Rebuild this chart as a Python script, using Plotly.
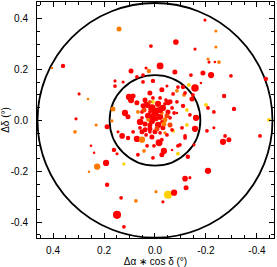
import plotly.graph_objects as go

# offsets in degrees (Delta alpha * cos delta, Delta delta), brightness, colour class
d_ra = [0.141, 0.361, 0.404, 0.094, 0.157, 0.125, 0.157, 0.298, 0.263, 0.102,
        0.094, 0.086, 0.071, 0.165, 0.118, 0.106, 0.310, 0.231, 0.188, 0.314,
        -0.196, -0.239, -0.082, 0.016, -0.239, -0.157, -0.208, -0.212, -0.235, -0.251,
        -0.020, 0.035, 0.024, -0.078, -0.188, -0.220, -0.298, -0.435, 0.008, -0.180,
        -0.133, -0.047, -0.090, -0.110, -0.157, -0.027, -0.086, -0.271, -0.114, -0.145,
        -0.200, -0.208, -0.310, -0.231, -0.161, -0.447, -0.125, -0.137, -0.231, -0.157,
        0.161, 0.129, 0.106, 0.149, 0.251, 0.239, 0.192, 0.227, 0.122, 0.259,
        0.188, 0.133, 0.149, 0.122, 0.075,
        -0.016, -0.118, -0.153, 0.004, -0.090, -0.035, 0.043, -0.027, -0.129, -0.267,
        -0.290, -0.275, -0.412, -0.208, -0.118, -0.137, -0.122, -0.004, -0.051, -0.075,
        -0.031,
        0.047, 0.047, 0.071, 0.020, 0.039, 0.008, 0.051, 0.059, 0.169, 0.086,
        0.071, 0.051, 0.051, 0.145, 0.020, 0.067, 0.031, 0.008, -0.141, -0.071,
        -0.118, -0.149, -0.051, -0.086, -0.110, -0.086, -0.125, -0.106, -0.204, -0.039,
        -0.071, -0.118, -0.098, -0.067, -0.090,
        0.031, 0.012, -0.012, -0.031, -0.051, 0.000, 0.027, -0.020, -0.039, 0.012,
        0.039, -0.012, -0.031, 0.020, -0.059, -0.008, 0.043, -0.067, -0.043, 0.008,
        -0.020, 0.020, -0.027, -0.059, 0.051, 0.000, -0.020, 0.035, -0.047, -0.075,
        0.059, -0.004, 0.020, -0.027, 0.027, -0.039,
        0.039, -0.059, 0.047, -0.020, 0.008, -0.047, 0.055, 0.020, -0.035, -0.008,
        0.039, -0.067, 0.012, -0.027, 0.067]
d_dec = [0.359, 0.214, 0.206, 0.194, 0.155, 0.151, 0.135, 0.104, 0.084, 0.092,
         0.080, 0.096, 0.069, 0.045, 0.029, 0.014, 0.006, -0.018, -0.025, -0.045,
         0.394, 0.351, 0.308, 0.292, 0.288, 0.280, 0.241, 0.229, 0.229, 0.229,
         0.214, 0.206, 0.194, 0.190, 0.186, 0.178, 0.175, 0.163, 0.155, 0.147,
         0.139, 0.135, 0.131, 0.131, 0.127, 0.120, 0.116, 0.096, 0.100, 0.084,
         0.061, 0.049, 0.045, 0.033, 0.010, 0.002, 0.041, 0.022, -0.029, -0.033,
         -0.116, -0.061, -0.069, -0.131, -0.100, -0.127, -0.167, -0.182, -0.171, -0.202,
         -0.253, -0.304, -0.371, -0.418, -0.316,
         -0.088, -0.061, -0.096, -0.100, -0.100, -0.120, -0.120, -0.135, -0.143, -0.084,
         -0.076, -0.061, -0.061, -0.198, -0.229, -0.225, -0.265, -0.280, -0.292, -0.284,
         -0.320,
         0.178, 0.151, 0.171, 0.108, 0.073, 0.073, 0.033, -0.006, -0.002, -0.045,
         -0.073, -0.076, -0.045, -0.045, -0.045, -0.135, -0.100, -0.147, 0.178, 0.104,
         0.108, 0.100, 0.069, 0.073, 0.057, 0.029, -0.018, -0.029, -0.041, -0.049,
         -0.041, -0.069, -0.096, -0.116, -0.131,
         0.061, 0.049, 0.065, 0.049, 0.033, 0.029, 0.018, 0.014, 0.002, -0.002,
         -0.014, -0.018, -0.029, -0.033, -0.018, 0.041, 0.041, 0.049, 0.080, 0.088,
         0.088, 0.033, 0.029, 0.010, 0.010, -0.045, -0.049, -0.057, -0.057, 0.029,
         -0.029, 0.006, 0.073, -0.006, 0.002, 0.065,
         0.080, 0.073, 0.057, 0.041, 0.014, 0.018, -0.006, -0.018, -0.014, -0.033,
         -0.037, -0.037, -0.065, -0.076, 0.033]
brightness = [4, 3.5, 2, 4, 2.5, 2.5, 3, 2.5, 2, 5,
              5, 4, 4, 4, 5, 4, 2.5, 2.5, 4, 3,
              2.5, 2.5, 4.5, 3, 2.5, 2.5, 2.5, 2.5, 2, 3,
              5.5, 2.5, 3.5, 4, 4, 5, 3, 3.5, 3.5, 2,
              3, 2.5, 3, 3.5, 6, 4, 3, 3.5, 3, 4,
              3, 3, 3.5, 3, 5, 3, 3, 3, 2.5, 5,
              3.5, 4.5, 3.5, 2.5, 2, 2, 5, 5, 2.5, 2,
              3.5, 3, 6.5, 3, 3,
              5.5, 3, 2.5, 3, 3, 5, 3, 4, 3.5, 5,
              4, 3, 3, 5, 4.5, 2.5, 4, 2.5, 6.5, 5,
              2.5,
              3, 3, 3, 4, 2.5, 3, 3, 5, 2.5, 3,
              5, 5, 4, 2.5, 3, 3, 3, 3, 3, 3,
              3, 3, 4, 3, 3.5, 2, 3, 3, 3, 2.5,
              3, 3, 3, 2, 3,
              5, 6, 5, 5, 4, 6, 5, 5, 4, 5,
              4, 5, 4, 4, 4, 4, 4, 3, 3, 3,
              3, 3, 3, 3, 3, 4, 3, 3, 3, 3,
              3, 4, 3, 3, 3, 3,
              4, 4, 4, 5, 5, 4, 4, 4, 4, 4,
              4, 3, 4, 3, 3]
colour_class = list("OROR" "RRRROR" "RRROR" "RROROR"
                    "ORRORORROR" "RORRRRRRRY" "RRRRRORORY" "RRRRYYRRRR"
                    "RRRRRROYOR" "RRROR"
                    "RRRRRORRRR" "RRRRRROYRR" "R"
                    "RRRRYRRORR" "ORRRRRRRRR" "RRRRRYRROY" "RRRYR"
                    "RRRRRRRORR" "RRRDRDRRRR" "RORRRRRRRR" "RDRORR"
                    "RRRRDRRODR" "RRROR")
circle_radii = [0.178, 0.461]
tick_vals = [0.4, 0.2, 0.0, -0.2, -0.4]
tick_text = ["0.4", "0.2", "0.0", "-0.2", "-0.4"]

palette = {"R": "#ff0000", "O": "#ff7a00", "Y": "#ffd000", "D": "#ff4000"}
size_factor = 1.25

n = min(len(d_ra), len(d_dec), len(brightness), len(colour_class))
fig = go.Figure()
fig.add_trace(go.Scatter(
    x=d_ra[:n], y=d_dec[:n], mode="markers",
    marker=dict(size=[b * size_factor for b in brightness[:n]],
                color=[palette[c] for c in colour_class[:n]],
                opacity=1, line=dict(width=0)),
    opacity=1, hoverinfo="skip", showlegend=False))

for r in circle_radii:
    fig.add_shape(type="circle", xref="x", yref="y", x0=-r, x1=r, y0=-r, y1=r,
                  line=dict(color="black", width=1.8), layer="below")

font = dict(family="Liberation Sans, Arial, Helvetica, sans-serif", size=10, color="black")
axis_common = dict(
    showgrid=False, zeroline=False, showline=True, linecolor="black", linewidth=1,
    mirror="ticks", ticks="inside", ticklen=5, tickcolor="black", tickwidth=1,
    tickvals=tick_vals, ticktext=tick_text, tickfont=font, automargin=False,
    minor=dict(ticks="inside", ticklen=3, dtick=0.05, tickcolor="black", showgrid=False),
)
fig.update_xaxes(range=[0.463, -0.467], title=dict(text="Δα ∗ cos δ (°)", font=font, standoff=2),
                 ticklabelstandoff=3, **axis_common)
fig.update_yaxes(range=[-0.462, 0.465], title=dict(text="Δδ (°)", font=font, standoff=6),
                 ticklabelstandoff=6, **axis_common)
fig.update_layout(width=277, height=267, margin=dict(l=37, r=3, t=2, b=29),
                  plot_bgcolor="white", paper_bgcolor="white", font=font)
fig.write_html("out.html", config={"displayModeBar": False},
               post_script="document.body.style.margin='0';document.body.style.overflow='hidden';")
